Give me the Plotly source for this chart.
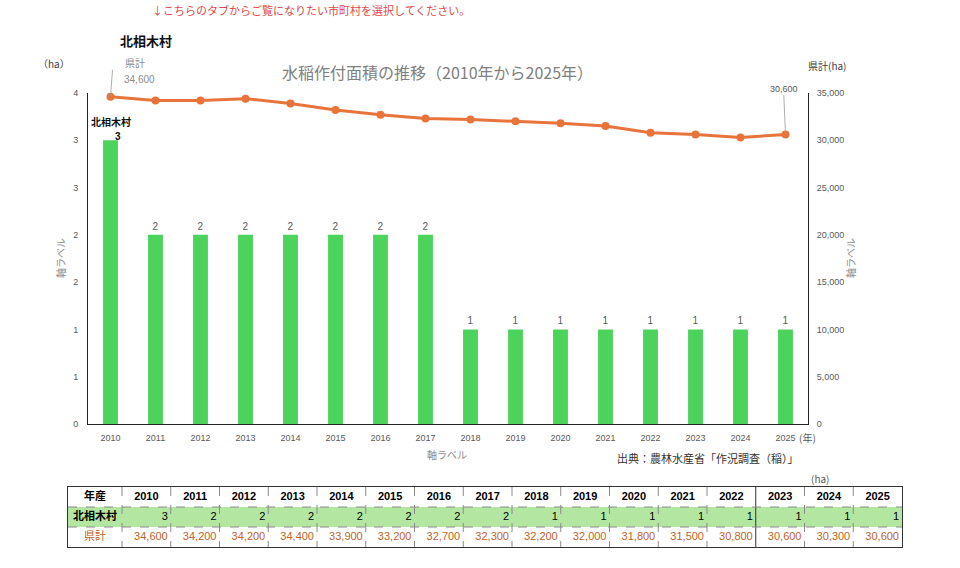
import plotly.graph_objects as go

years = list(range(2010, 2026))
village_name = "北相木村"
village_ha = [3, 2, 2, 2, 2, 2, 2, 2, 1, 1, 1, 1, 1, 1, 1, 1]
pref_ha = [34600, 34200, 34200, 34400, 33900, 33200, 32700, 32300,
           32200, 32000, 31800, 31500, 30800, 30600, 30300, 30600]
left_tickvals = [0, 0.5, 1, 1.5, 2, 2.5, 3, 3.5]
left_ticktext = ["0", "1", "1", "2", "2", "3", "3", "4"]
right_tickvals = [0, 5000, 10000, 15000, 20000, 25000, 30000, 35000]

W, H = 960, 568
FONT = "Liberation Sans, Noto Sans CJK JP, sans-serif"
JP = "Noto Sans CJK JP, sans-serif"
GRAY = "#595959"
GREEN = "#4cd35c"
ORANGE = "#e8743b"
ORANGE_TXT = "#c0622a"
ROW_GREEN = "#b3e6a0"


def px(x):
    return x / W


def py(y):
    return 1 - y / H


fig = go.Figure()

bar_text = [f"{v:g}" for v in village_ha]
bar_text[0] = ""
fig.add_trace(go.Bar(
    x=years, y=village_ha, marker_color=GREEN, marker_line_width=0,
    text=bar_text, textposition="outside", cliponaxis=False,
    textfont=dict(size=10, color=GRAY, family=FONT),
    yaxis="y", xaxis="x", showlegend=False, hoverinfo="skip",
))
fig.add_trace(go.Scatter(
    x=years, y=pref_ha, mode="lines+markers", yaxis="y2", xaxis="x",
    line=dict(color=ORANGE, width=3), marker=dict(color=ORANGE, size=8),
    showlegend=False, cliponaxis=False,
))

# ---------- data table drawn on its own axes ----------
col_widths = [54] + [48.75] * len(years)
edges = [0.0]
for w in col_widths:
    edges.append(edges[-1] + w)
centers = [(a + b) / 2 for a, b in zip(edges[:-1], edges[1:])]
rights = [e - 3 for e in edges[1:]]

z = [[0] * len(col_widths), [1] * len(col_widths), [0] * len(col_widths)]
fig.add_trace(go.Heatmap(
    x=edges, y=[0, 1, 2, 3], z=z, xaxis="x3", yaxis="y3",
    colorscale=[[0, "white"], [1, ROW_GREEN]], zmin=0, zmax=1,
    showscale=False, hoverinfo="skip",
))

tx, ty, tt, tc, tp = [], [], [], [], []
tx.append(centers[0]); ty.append(0.5); tt.append("<b>年産</b>"); tc.append("black"); tp.append("middle center")
for i, y in enumerate(years):
    tx.append(centers[i + 1]); ty.append(0.5); tt.append(f"<b>{y}</b>"); tc.append("black"); tp.append("middle center")
tx.append(centers[0]); ty.append(1.5); tt.append(f"<b>{village_name}</b>"); tc.append("black"); tp.append("middle center")
tx.append(centers[0]); ty.append(2.5); tt.append("県計"); tc.append(ORANGE_TXT); tp.append("middle center")
for i, (v, p) in enumerate(zip(village_ha, pref_ha)):
    tx.append(rights[i + 1]); ty.append(1.5); tt.append(f"{v:g}"); tc.append("black"); tp.append("middle left")
    tx.append(rights[i + 1]); ty.append(2.5); tt.append(f"{p:,}"); tc.append(ORANGE_TXT); tp.append("middle left")
fig.add_trace(go.Scatter(
    x=tx, y=ty, text=tt, mode="text", textposition=tp, xaxis="x3", yaxis="y3",
    textfont=dict(size=11, color=tc, family=FONT), showlegend=False, hoverinfo="skip",
    cliponaxis=False,
))

shapes = []
for i, e in enumerate(edges[1:-1], start=1):
    solid = (i == 14)
    shapes.append(dict(type="line", xref="x3", yref="y3", x0=e, x1=e, y0=0, y1=3,
                       line=dict(color="#333" if solid else "#8a8a8a", width=1,
                                 dash="solid" if solid else "dash")))
for r in [1, 2]:
    shapes.append(dict(type="line", xref="x3", yref="y3", x0=edges[0], x1=edges[-1], y0=r, y1=r,
                       line=dict(color="#8a8a8a", width=1, dash="dash")))

fig.update_layout(
    width=W, height=H, margin=dict(l=0, r=0, t=0, b=0, pad=0, autoexpand=False),
    paper_bgcolor="white", plot_bgcolor="white",
    font=dict(family=FONT, color=GRAY, size=10),
    bargap=0.67, showlegend=False,
    xaxis=dict(domain=[px(88), px(808)], range=[years[0] - 0.5, years[-1] + 0.5],
               tickvals=years, showline=True, automargin=False, ticklabelstandoff=5,
               linecolor="#222", linewidth=1, ticks="", showgrid=False, zeroline=False,
               tickfont=dict(size=9, color=GRAY)),
    yaxis=dict(domain=[py(424), py(93)], range=[0, 3.5], tickvals=left_tickvals,
               ticktext=left_ticktext, showline=True, linecolor="#222", linewidth=1,
               showgrid=False, zeroline=False, ticks="", automargin=False, ticklabelstandoff=7,
               tickfont=dict(size=9, color=GRAY)),
    yaxis2=dict(overlaying="y", side="right", range=[0, 35000], tickvals=right_tickvals,
                tickformat=",", showline=True, linecolor="#222", linewidth=1,
                showgrid=False, zeroline=False, ticks="", automargin=False, ticklabelstandoff=6,
                tickfont=dict(size=9, color=GRAY)),
    xaxis3=dict(domain=[px(68), px(902)], range=[edges[0], edges[-1]], anchor="y3",
                showticklabels=False, ticks="", showgrid=False, automargin=False,
                zeroline=False, showline=True, mirror=True, linecolor="#333", linewidth=1),
    yaxis3=dict(domain=[py(547), py(487)], range=[3, 0], anchor="x3",
                showticklabels=False, ticks="", showgrid=False, automargin=False,
                zeroline=False, showline=True, mirror=True, linecolor="#333", linewidth=1),
    shapes=shapes,
)

ann = []


def txt(x, y, s, size=10, color=GRAY, xanchor="center", angle=0, family=JP, yanchor="middle"):
    ann.append(dict(x=px(x), y=py(y), xref="paper", yref="paper", text=s, showarrow=False,
                    xanchor=xanchor, yanchor=yanchor, textangle=angle,
                    font=dict(size=size, color=color, family=family)))


txt(150, 10, "↓こちらのタブからご覧になりたい市町村を選択してください。", 11, "#e04848", "left")
txt(118, 41, f"<b>{village_name}</b>", 13, "#111", "left")
txt(36, 64, "（ha）", 10, "#404040", "left")
txt(806, 65, "県計(ha)", 10, "#404040", "left")
txt(437, 72, "水稲作付面積の推移（2010年から2025年）", 16, "#808080")
txt(60, 258, "軸ラベル", 10, "#8c8c8c", angle=-90)
txt(850, 258, "軸ラベル", 10, "#8c8c8c", angle=-90)
txt(447, 454, "軸ラベル", 10, "#8c8c8c")
txt(797, 437, "(年)", 10, GRAY, "left")
txt(615, 458, "出典：農林水産省「作況調査（稲）」", 11, "#333", "left")
txt(820, 478, "(ha)", 10, GRAY)

# data callouts
ann.append(dict(x=years[0], y=village_ha[0], xref="x", yref="y", text=f"<b>{village_name}</b>",
                showarrow=False, xanchor="center", yshift=19,
                font=dict(size=10, color="#111", family=JP)))
ann.append(dict(x=years[0], y=village_ha[0], xref="x", yref="y", text=f"<b>{village_ha[0]:g}</b>",
                showarrow=False, xanchor="center", xshift=7, yshift=4,
                font=dict(size=10, color="#111", family=FONT)))
# leader line for the first prefecture value
ann.append(dict(x=years[0], y=pref_ha[0], xref="x", yref="y2", text=" ", xanchor="left",
                showarrow=True, arrowhead=0, arrowwidth=0.8, arrowcolor="#999",
                ax=2, ay=-27, font=dict(size=2)))
ann.append(dict(x=years[0], y=pref_ha[0], xref="x", yref="y2", text="県計",
                showarrow=False, xanchor="center", xshift=24, yshift=34,
                font=dict(size=10, color="#8c8c8c", family=JP)))
ann.append(dict(x=years[0], y=pref_ha[0], xref="x", yref="y2", text=f"{pref_ha[0]:,}",
                showarrow=False, xanchor="left", xshift=11, yshift=17,
                font=dict(size=10, color="#8c8c8c", family=FONT)))
ann.append(dict(x=years[-1], y=pref_ha[-1], xref="x", yref="y2",
                text=f"{pref_ha[-1]:,}", showarrow=True, arrowhead=0, arrowwidth=0.8,
                arrowcolor="#999", ax=-2, ay=-46, font=dict(size=9, color=GRAY, family=FONT)))
fig.update_layout(annotations=ann)

fig.write_html("out.html")
